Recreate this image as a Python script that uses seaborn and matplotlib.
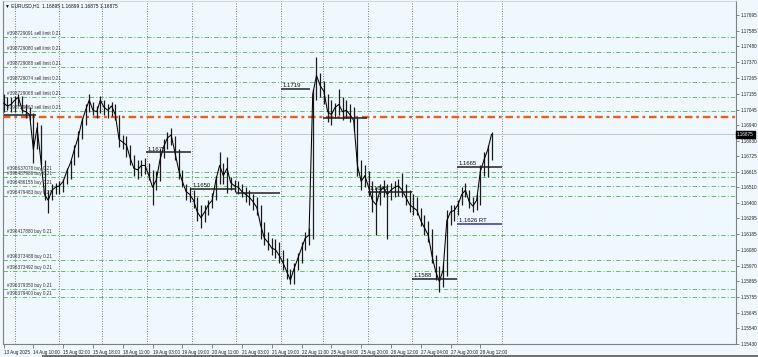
import numpy as np
import pandas as pd
import matplotlib
matplotlib.use("Agg")
import matplotlib.pyplot as plt
import matplotlib.transforms as mtransforms
from matplotlib.patches import Rectangle
import seaborn as sns

# ---------------- data ----------------
bar_step = 2  # one sampled bar every 2 hourly bars
high = [1.1715, 1.1713, 1.1713, 1.1714, 1.1715, 1.1714, 1.1708, 1.1706, 1.1702, 1.1696,
        1.1694, 1.1670, 1.1649, 1.1653, 1.1654, 1.1655, 1.1657, 1.1664, 1.1670, 1.1680,
        1.1690, 1.1699, 1.1708, 1.1715, 1.1710, 1.1707, 1.1714, 1.1711, 1.1708, 1.1710,
        1.1708, 1.1701, 1.1687, 1.1686, 1.1680, 1.1673, 1.1670, 1.1670, 1.1671, 1.1668,
        1.1663, 1.1662, 1.1677, 1.1684, 1.1689, 1.1692, 1.1686, 1.1677, 1.1663, 1.1653,
        1.1651, 1.1649, 1.1644, 1.1639, 1.1639, 1.1642, 1.1647, 1.1659, 1.1675, 1.1668,
        1.1672, 1.1658, 1.1656, 1.1655, 1.1653, 1.1651, 1.1649, 1.1646, 1.1644, 1.1639,
        1.1627, 1.1620, 1.1616, 1.1615, 1.1613, 1.1608, 1.1602, 1.1595, 1.1599, 1.1606,
        1.1613, 1.1620, 1.1623, 1.1719, 1.1741, 1.1730, 1.1724, 1.1715, 1.1711, 1.1709,
        1.1719, 1.1713, 1.1711, 1.1708, 1.1706, 1.1699, 1.1670, 1.1666, 1.1662, 1.1655,
        1.1651, 1.1653, 1.1656, 1.1653, 1.1654, 1.1655, 1.1657, 1.1661, 1.1653, 1.1649,
        1.1646, 1.1644, 1.1637, 1.1632, 1.1628, 1.1622, 1.1604, 1.1597, 1.1599, 1.1635,
        1.1639, 1.1639, 1.1642, 1.1651, 1.1654, 1.1649, 1.1644, 1.1646, 1.1666, 1.1675,
        1.1680, 1.1689]
low = [1.1703, 1.1704, 1.1703, 1.1703, 1.1707, 1.1702, 1.1699, 1.1697, 1.1668, 1.1677,
       1.1666, 1.1642, 1.1633, 1.1642, 1.1646, 1.1646, 1.1648, 1.1653, 1.1657, 1.1666,
       1.1672, 1.1684, 1.1694, 1.1703, 1.1701, 1.1699, 1.1702, 1.1701, 1.1699, 1.1700,
       1.1697, 1.1679, 1.1677, 1.1672, 1.1666, 1.1659, 1.1657, 1.1659, 1.1660, 1.1656,
       1.1639, 1.1649, 1.1655, 1.1671, 1.1677, 1.1680, 1.1670, 1.1657, 1.1651, 1.1642,
       1.1641, 1.1637, 1.1628, 1.1623, 1.1627, 1.1632, 1.1637, 1.1642, 1.1653, 1.1653,
       1.1647, 1.1649, 1.1648, 1.1646, 1.1644, 1.1641, 1.1639, 1.1635, 1.1632, 1.1615,
       1.1611, 1.1608, 1.1604, 1.1602, 1.1599, 1.1594, 1.1588, 1.1584, 1.1584, 1.1594,
       1.1599, 1.1608, 1.1611, 1.1615, 1.1711, 1.1713, 1.1708, 1.1696, 1.1694, 1.1699,
       1.1701, 1.1697, 1.1699, 1.1696, 1.1690, 1.1659, 1.1649, 1.1651, 1.1645, 1.1634,
       1.1618, 1.1639, 1.1644, 1.1615, 1.1642, 1.1644, 1.1645, 1.1644, 1.1639, 1.1634,
       1.1632, 1.1632, 1.1624, 1.1618, 1.1613, 1.1599, 1.1587, 1.1579, 1.1582, 1.1590,
       1.1625, 1.1628, 1.1632, 1.1639, 1.1644, 1.1637, 1.1634, 1.1635, 1.1639, 1.1659,
       1.1658, 1.1670]
close = [1.1709, 1.1707, 1.1708, 1.1711, 1.1713, 1.1704, 1.1703, 1.1701, 1.1677, 1.1692,
         1.1670, 1.1646, 1.1642, 1.1649, 1.1651, 1.1652, 1.1655, 1.1662, 1.1668, 1.1677,
         1.1685, 1.1696, 1.1704, 1.1711, 1.1704, 1.1703, 1.1711, 1.1706, 1.1704, 1.1707,
         1.1701, 1.1684, 1.1682, 1.1680, 1.1671, 1.1664, 1.1663, 1.1666, 1.1666, 1.1659,
         1.1651, 1.1656, 1.1670, 1.1679, 1.1685, 1.1687, 1.1675, 1.1663, 1.1655, 1.1648,
         1.1646, 1.1642, 1.1634, 1.1630, 1.1634, 1.1639, 1.1642, 1.1656, 1.1666, 1.1659,
         1.1664, 1.1654, 1.1652, 1.1651, 1.1648, 1.1646, 1.1644, 1.1641, 1.1637, 1.1625,
         1.1616, 1.1613, 1.1609, 1.1608, 1.1604, 1.1599, 1.1593, 1.1587, 1.1595, 1.1602,
         1.1609, 1.1616, 1.1618, 1.1715, 1.1728, 1.1721, 1.1717, 1.1703, 1.1701, 1.1706,
         1.1708, 1.1703, 1.1704, 1.1701, 1.1697, 1.1666, 1.1655, 1.1659, 1.1651, 1.1642,
         1.1639, 1.1648, 1.1651, 1.1646, 1.1649, 1.1651, 1.1652, 1.1649, 1.1644, 1.1639,
         1.1637, 1.1635, 1.1628, 1.1623, 1.1618, 1.1604, 1.1593, 1.1586, 1.1594, 1.1628,
         1.1634, 1.1635, 1.1639, 1.1646, 1.1649, 1.1641, 1.1638, 1.1642, 1.1662, 1.1670,
         1.1677, 1.16875]
bars = np.arange(len(close)) * bar_step

x_tick_bars = list(range(0, 257, 16))
x_tick_labels = ["13 Aug 2025", "14 Aug 10:00", "15 Aug 02:00", "15 Aug 18:00",
                 "18 Aug 11:00", "19 Aug 03:00", "19 Aug 19:00", "20 Aug 11:00",
                 "21 Aug 03:00", "21 Aug 19:00", "22 Aug 11:00", "25 Aug 04:00",
                 "25 Aug 20:00", "26 Aug 12:00", "27 Aug 04:00", "27 Aug 20:00",
                 "28 Aug 12:00"]
y_tick_values = [1.17695, 1.17585, 1.17480, 1.17370, 1.17265, 1.17155, 1.17045,
                 1.16940, 1.16830, 1.16725, 1.16615, 1.16510, 1.16400, 1.16295,
                 1.16185, 1.16080, 1.15970, 1.15865, 1.15755, 1.15645, 1.15540,
                 1.15430]

sell_prices = [1.17545, 1.17442, 1.17338, 1.17235, 1.17132, 1.17035]
sell_labels = ["#398729091 sell limit 0.21", "#398729080 sell limit 0.21",
               "#398729088 sell limit 0.21", "#398729074 sell limit 0.21",
               "#398729068 sell limit 0.21", "#398729063 sell limit 0.21"]
buy_prices = [1.16615, 1.16580, 1.16518, 1.16450, 1.16181, 1.16009, 1.15933,
              1.15809, 1.15754]
buy_labels = ["#396637078 buy 0.21", "#396487986 buy 0.21", "#396486155 buy 0.21",
              "#396479483 buy 0.21", "#396417880 buy 0.21", "#396373488 buy 0.21",
              "#396373492 buy 0.21", "#396379350 buy 0.21", "#396379400 buy 0.21"]
entry_price = 1.16994
bid_price = 1.16875

level_prices = [1.1719, 1.1675, 1.1650, 1.1647, 1.1699, 1.1648, 1.1588, 1.1665, 1.1626, 1.1701]
level_texts = ["1.1719", "1.1675", "1.1650", "", "", "1.1648", "1.1588", "1.1665",
               "1.1626 RT", ""]
level_start = [149, 76.5, 100.6, 124.8, 171.5, 195.7, 219.3, 243.5, 243.5, 0]
level_end = [164.5, 100.6, 124.8, 148.4, 195.1, 219.3, 243.5, 267.6, 267.6, 17.4]

header = "\u25BC EURUSD,H1  1.16895 1.16899 1.16875 1.16875"

# ---------------- style ----------------
BG = "#F0F8FF"
sns.set_style("white")
plt.rcParams["font.family"] = ["Liberation Sans", "DejaVu Sans"]

W, H = 758, 357
fig = plt.figure(figsize=(W / 100, H / 100), dpi=100, facecolor=BG)
ax = fig.add_axes([3 / W, 13 / H, 733 / W, 343 / H])
ax.set_facecolor(BG)

px_per_bar = 1.8625
xmin = -0.3
xmax = 733 / px_per_bar + xmin
ax.set_xlim(xmin, xmax)
ax.set_ylim(1.15430, 1.17793)

# vertical grid (daily separators)
grid_bars = [6, 30, 53, 77, 101, 125, 149, 171.5, 195.5, 219.5, 243.5, 267.5]
for g in grid_bars:
    ax.axvline(g, color="#6f6f6f", lw=0.6, ls=(0, (1.2, 1.8)), zorder=1)

# current bid line
ax.axhline(bid_price, color="#c4c4c4", lw=0.7, zorder=1)

# order lines
order_green = "#62b662"
dashdot = (0, (5.0, 2.2, 1.2, 2.2))
blend = mtransforms.blended_transform_factory(ax.transAxes, ax.transData)
for p, s in zip(sell_prices + buy_prices, sell_labels + buy_labels):
    ax.axhline(p, color=order_green, lw=0.65, ls=dashdot, zorder=2)
    ax.text(0.005, p + 0.00004, s, transform=blend, fontsize=3.3, color="#333333",
            ha="left", va="bottom", zorder=6)

# entry (orange) line
ax.axhline(entry_price, color="#e8601c", lw=1.7, ls=(0, (3.2, 1.6, 1.2, 1.6)), zorder=3)

# price bars
ax.vlines(bars, low, high, color="#1a1a1a", lw=0.9, zorder=4)
df = pd.DataFrame({"bar": bars, "close": close})
sns.lineplot(data=df, x="bar", y="close", ax=ax, color="black", lw=0.75, zorder=5)

# level lines
for p, t, a, b in zip(level_prices, level_texts, level_start, level_end):
    col = "#35359a" if "RT" in t else "#202020"
    ax.hlines(p, a, b, color=col, lw=1.1, zorder=6)
    if t:
        ax.text(a + 1.0, p + 0.00006, t, fontsize=4.3, color="#111111",
                ha="left", va="bottom", zorder=7)

# header
ax.text(0.003, 0.993, header, transform=ax.transAxes, fontsize=3.5, color="#111111",
        ha="left", va="top", zorder=8)

# axes
ax.yaxis.tick_right()
ax.set_yticks(y_tick_values)
ax.set_yticklabels([f"{v:.5f}" for v in y_tick_values])
ax.tick_params(axis="y", which="both", right=True, left=False, length=2, width=0.5,
               pad=1.5, labelsize=3.3, color="#555555", labelcolor="#222222")
ax.set_xticks(x_tick_bars)
ax.set_xticklabels(x_tick_labels)
for lab in ax.get_xticklabels():
    lab.set_horizontalalignment("left")
ax.tick_params(axis="x", which="both", bottom=True, length=3, width=0.5, pad=1.2,
               labelsize=3.3, color="#555555", labelcolor="#222222", direction="out")
ax.set_xlabel("")
ax.set_ylabel("")
for side in ["right", "bottom", "left"]:
    ax.spines[side].set_color("#808080")
    ax.spines[side].set_linewidth(0.8)
ax.spines["top"].set_color("#c8c8c8")
ax.spines["top"].set_linewidth(0.5)

# bid price box on the scale
ax.text(1.0015, bid_price, f"{bid_price:.5f}", transform=blend, fontsize=3.3,
        color="white", ha="left", va="center", zorder=9, clip_on=False,
        bbox=dict(boxstyle="square,pad=0.25", fc="black", ec="black"))

# window bottom border
fig.patches.append(Rectangle((42 / W, 0), 1 - 42 / W, 2 / H, transform=fig.transFigure,
                             facecolor="#707070", edgecolor="none"))

fig.savefig("out.png", dpi=100, facecolor=BG)
